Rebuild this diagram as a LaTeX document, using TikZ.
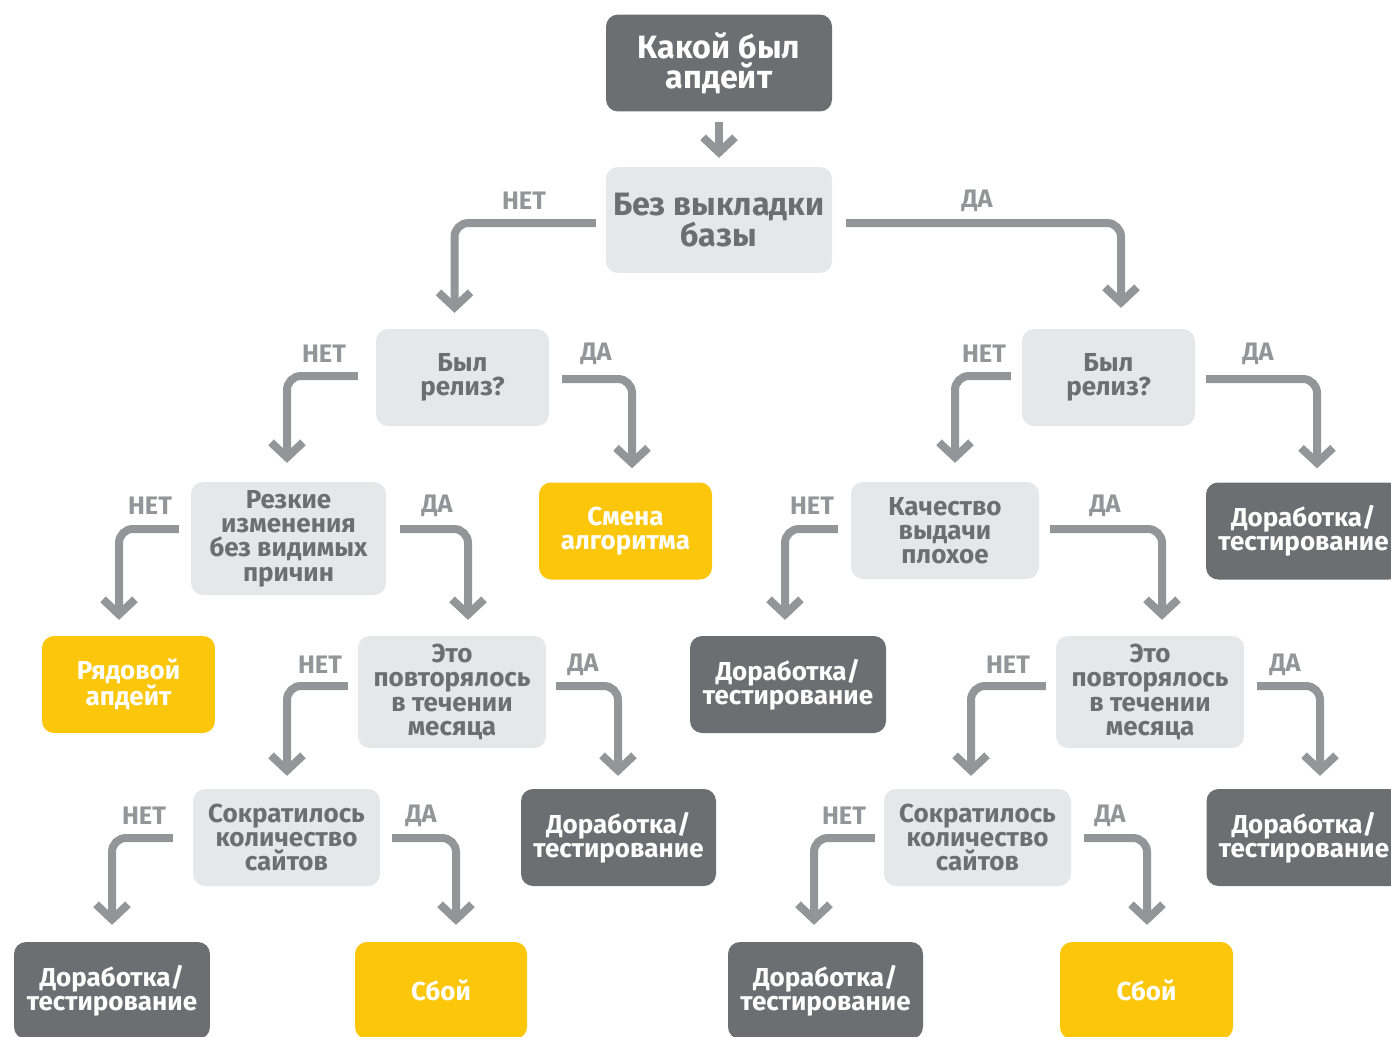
\documentclass[tikz,border=0pt]{standalone}
\usepackage{fontspec}
\setmainfont{Fira Sans}
\usetikzlibrary{arrows.meta}
\definecolor{dg}{HTML}{6D6E71}
\definecolor{lg}{HTML}{E6E7E8}
\definecolor{yl}{HTML}{FCC60B}
\definecolor{ag}{HTML}{939598}
\begin{document}
\begin{tikzpicture}[x=0.05cm,y=-0.05cm,
  box/.style={rounded corners=0.6cm, inner sep=0pt, align=center,
    font=\fontsize{37}{34.5}\selectfont\bfseries, minimum height=4.85cm},
  bigfont/.style={font=\fontsize{46}{43}\selectfont\bfseries},
  darkbox/.style={box, fill=dg, text=white},
  lightbox/.style={box, fill=lg, text=dg},
  yellowbox/.style={box, fill=yl, text=white},
  conn/.style={draw=ag, line width=0.4cm, rounded corners=0.7cm,
    -{Straight Barb[sharp, length=0.75cm, width=1.6cm]}},
  lbl/.style={text=ag, font=\fontsize{36}{36}\selectfont\bfseries, inner sep=0pt}]
\useasboundingbox (0,0) rectangle (1391,1037);
\clip (0,0) rectangle (1391,1037);

% nodes
\node[darkbox, bigfont, minimum width=11.3cm] (top) at (719,63) {Какой был\\апдейт};
\node[lightbox, bigfont, minimum width=11.3cm, minimum height=5.3cm] (bez) at (719,220) {Без выкладки\\базы};
\node[lightbox, minimum width=8.65cm] (relL) at (462.5,377.5) {Был\\релиз?};
\node[lightbox, minimum width=8.65cm] (relR) at (1108.5,377.5) {Был\\релиз?};
\node[lightbox, minimum width=9.75cm, minimum height=5.65cm] (rez) at (288.5,538.5) {Резкие\\изменения\\без видимых\\причин};
\node[yellowbox, minimum width=8.65cm] (smena) at (625.5,531) {Смена\\алгоритма};
\node[lightbox, minimum width=9.4cm] (kach) at (945,530.5) {Качество\\выдачи\\плохое};
\node[darkbox, minimum width=9.75cm] (dorA) at (1303.5,531) {Доработка/\\тестирование};
\node[yellowbox, minimum width=8.65cm] (ryad) at (128.5,684.5) {Рядовой\\апдейт};
\node[lightbox, minimum width=9.4cm, minimum height=5.6cm] (etoL) at (452,692) {Это\\повторялось\\в течении\\месяца};
\node[darkbox, minimum width=9.8cm] (dorB) at (788,684.5) {Доработка/\\тестирование};
\node[lightbox, minimum width=9.4cm, minimum height=5.6cm] (etoR) at (1150,692) {Это\\повторялось\\в течении\\месяца};
\node[darkbox, minimum width=9.75cm] (dorC) at (1304,837.5) {Доработка/\\тестирование};
\node[lightbox, minimum width=9.35cm] (sokL) at (286.5,837.5) {Сократилось\\количество\\сайтов};
\node[darkbox, minimum width=9.75cm] (dorD) at (618.5,837.5) {Доработка/\\тестирование};
\node[lightbox, minimum width=9.35cm] (sokR) at (977.5,837.5) {Сократилось\\количество\\сайтов};
\node[darkbox, minimum width=9.8cm] (dorE) at (112,990.5) {Доработка/\\тестирование};
\node[yellowbox, minimum width=8.6cm] (sboyL) at (441,990.5) {Сбой};
\node[darkbox, minimum width=9.75cm] (dorF) at (825.5,990.5) {Доработка/\\тестирование};
\node[yellowbox, minimum width=8.65cm] (sboyR) at (1146.5,990.5) {Сбой};

% connectors
\draw[conn] ([yshift=-0.5cm]top.south) -- ([yshift=0.45cm]bez.north);
\draw[conn] ([shift={(-10,3)}]bez.west) -| ([shift={(-8,-16)}]relL.north);
\draw[conn] ([shift={(14,3)}]bez.east) -| ([shift={(12.5,-21)}]relR.north);
\draw[conn] ([shift={(-18,-1.5)}]relL.west) -| ([shift={(-1.5,-19)}]rez.north);
\draw[conn] ([shift={(13,1.5)}]relL.east) -| ([shift={(6.5,-14)}]smena.north);
\draw[conn] ([shift={(-11,-1.5)}]relR.west) -| ([shift={(10,-19)}]kach.north);
\draw[conn] ([shift={(11,1.5)}]relR.east) -| ([shift={(13.5,-14)}]dorA.north);
\draw[conn] ([shift={(-12,-9.5)}]rez.west) -| ([shift={(-9.5,-16)}]ryad.north);
\draw[conn] ([shift={(14,-9.5)}]rez.east) -| ([shift={(16,-16)}]etoL.north);
\draw[conn] ([shift={(-13,-1.5)}]kach.west) -| ([shift={(-3,-16)}]dorB.north);
\draw[conn] ([shift={(11,-1.5)}]kach.east) -| ([shift={(12,-16)}]etoR.north);
\draw[conn] ([shift={(-10,-6)}]etoL.west) -| ([shift={(0.5,-13)}]sokL.north);
\draw[conn] ([shift={(10,-6)}]etoL.east) -| ([shift={(-0.5,-13)}]dorD.north);
\draw[conn] ([shift={(-10,-6)}]etoR.west) -| ([shift={(-6.5,-13)}]sokR.north);
\draw[conn] ([shift={(13,-6)}]etoR.east) -| ([shift={(16,-13)}]dorC.north);
\draw[conn] ([shift={(-20,0.5)}]sokL.west) -| ([shift={(0,-17)}]dorE.north);
\draw[conn] ([shift={(12,0.5)}]sokL.east) -| ([shift={(15,-17)}]sboyL.north);
\draw[conn] ([shift={(-9,0.5)}]sokR.west) -| ([shift={(-11.5,-17)}]dorF.north);
\draw[conn] ([shift={(13,0.5)}]sokR.east) -| ([shift={(0.5,-17)}]sboyR.north);

% labels
\node[lbl] (l1) at (524,201) {НЕТ};
\node[lbl] (l2) at (977,201) {ДА};
\node[lbl] (l3) at (324,354) {НЕТ};
\node[lbl] (l4) at (596,354) {ДА};
\node[lbl] (l5) at (984,354) {НЕТ};
\node[lbl] (l6) at (1258,354) {ДА};
\node[lbl] (l7) at (150,506) {НЕТ};
\node[lbl] (l8) at (437,506) {ДА};
\node[lbl] (l9) at (812,506) {НЕТ};
\node[lbl] (l10) at (1105,506) {ДА};
\node[lbl] (l11) at (320,665) {НЕТ};
\node[lbl] (l12) at (583,665) {ДА};
\node[lbl] (l13) at (1008,665) {НЕТ};
\node[lbl] (l14) at (1285,665) {ДА};
\node[lbl] (l15) at (144,816) {НЕТ};
\node[lbl] (l16) at (421,816) {ДА};
\node[lbl] (l17) at (844,816) {НЕТ};
\node[lbl] (l18) at (1110,816) {ДА};
\end{tikzpicture}
\end{document}
